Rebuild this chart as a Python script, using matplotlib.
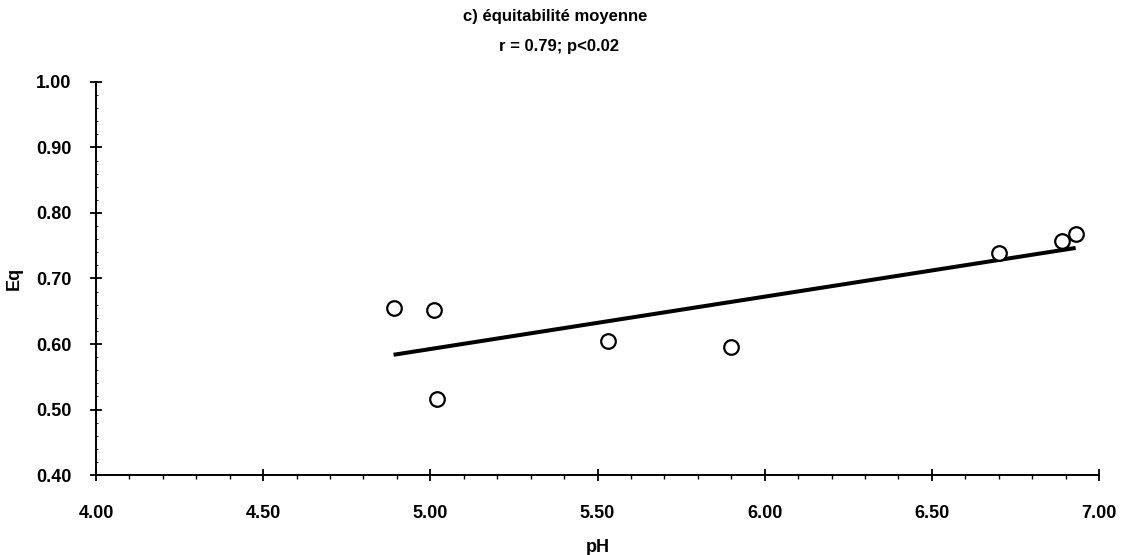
import numpy as np
import matplotlib
matplotlib.use("Agg")
import matplotlib.pyplot as plt
from matplotlib.ticker import MultipleLocator, FormatStrFormatter

# pH values and mean evenness (Eq)
ph = [4.89, 5.01, 5.02, 5.53, 5.90, 6.70, 6.89, 6.93]
eq = [0.655, 0.652, 0.516, 0.605, 0.595, 0.739, 0.758, 0.768]

title = "c) équitabilité moyenne"
subtitle = "r = 0.79; p<0.02"

plt.rcParams['font.family'] = ['Liberation Sans', 'DejaVu Sans']
plt.rcParams['font.weight'] = 'bold'

fig = plt.figure(figsize=(11.24, 5.55), dpi=100)
ax = fig.add_axes([0.0854, 0.1441, 0.8924, 0.7082])

# least squares line over the range of the data
slope, icpt = np.polyfit(ph, eq, 1)
xs = np.array([min(ph), max(ph)])
ax.plot(xs, slope * xs + icpt, color='black', lw=2.9, solid_capstyle='butt', zorder=2)

ax.plot(ph, eq, 'o', ms=10.5, mfc='white', mec='black', mew=1.6, zorder=3)

ax.set_xlim(4.0, 7.0)
ax.set_ylim(0.40, 1.00)
ax.xaxis.set_major_locator(MultipleLocator(0.5))
ax.xaxis.set_minor_locator(MultipleLocator(0.1))
ax.yaxis.set_major_locator(MultipleLocator(0.1))
ax.yaxis.set_minor_locator(MultipleLocator(0.02))
ax.xaxis.set_major_formatter(FormatStrFormatter('%.2f'))
ax.yaxis.set_major_formatter(FormatStrFormatter('%.2f'))

for s in ['top', 'right']:
    ax.spines[s].set_visible(False)
for s in ['left', 'bottom']:
    ax.spines[s].set_linewidth(1.4)

ax.tick_params(which='major', direction='inout', length=9, width=1.3,
               labelsize=13, pad=13)
ax.tick_params(axis='x', which='major', pad=17)
ax.tick_params(axis='x', which='minor', direction='out', length=3, width=1.0)
ax.tick_params(axis='y', which='minor', direction='in', length=1.5, width=0.6)

ax.set_xlabel("pH", fontsize=13, fontweight='bold', labelpad=12)
ax.set_ylabel("Eq", fontsize=13, fontweight='bold', labelpad=10)

fig.text(0.494, 1 - 17 / 555, title, ha='center', va='center',
         fontsize=12, fontweight='bold')
fig.text(0.497, 1 - 46 / 555, subtitle, ha='center', va='center',
         fontsize=12, fontweight='bold')

fig.savefig("out.png", dpi=100)
